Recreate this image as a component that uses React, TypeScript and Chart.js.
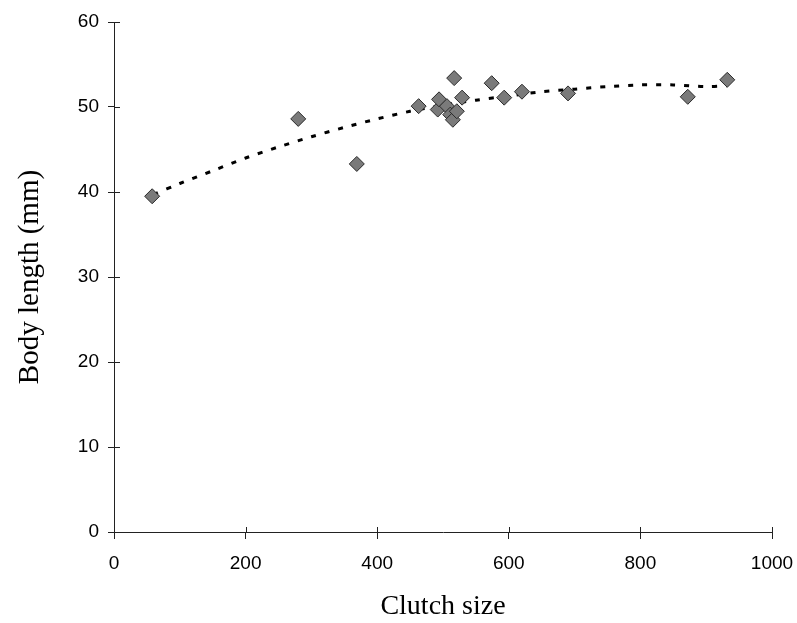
import React, { useEffect, useRef } from "react";
import { Chart, registerables } from "chart.js";

Chart.register(...registerables);

const clutchSize = [58, 280, 369, 463, 492, 494, 506, 511, 515, 517, 521, 529, 574, 593, 620, 690, 872, 932];
const bodyLength = [39.5, 48.6, 43.3, 50.1, 49.7, 50.9, 50.1, 49.1, 48.5, 53.4, 49.5, 51.1, 52.8, 51.1, 51.8, 51.6, 51.2, 53.2];

const trendX = [60, 100, 150, 200, 250, 300, 350, 400, 450, 500, 550, 600, 650, 700, 750, 800, 850, 900, 932];
const trendY = [39.7, 41.0, 42.5, 44.0, 45.3, 46.5, 47.6, 48.6, 49.5, 50.2, 50.8, 51.3, 51.8, 52.1, 52.4, 52.6, 52.6, 52.4, 52.5];

const xTitle = "Clutch size";
const yTitle = "Body length (mm)";

const innerTicks = {
  id: "innerTicks",
  afterDatasetsDraw(chart: any) {
    const ctx = chart.ctx;
    const xs = chart.scales.x;
    const ys = chart.scales.y;
    ctx.save();
    ctx.strokeStyle = "#222";
    ctx.lineWidth = 1;
    ctx.beginPath();
    ys.ticks.forEach((t: any) => {
      const py = Math.round(ys.getPixelForValue(t.value)) + 0.5;
      ctx.moveTo(ys.right, py);
      ctx.lineTo(ys.right + 6, py);
    });
    xs.ticks.forEach((t: any) => {
      const px = Math.round(xs.getPixelForValue(t.value)) + 0.5;
      ctx.moveTo(px, xs.top);
      ctx.lineTo(px, xs.top - 5);
    });
    ctx.stroke();
    ctx.restore();
  },
};

export default function App() {
  const ref = useRef<HTMLCanvasElement>(null);
  useEffect(() => {
    document.body.style.margin = "0";
    const canvas = ref.current!;
    const chart = new Chart(canvas, {
      type: "scatter",
      data: {
        datasets: [
          {
            label: "data",
            data: clutchSize.map((x, i) => ({ x, y: bodyLength[i] })),
            pointStyle: "rectRot",
            pointRadius: 7.5,
            backgroundColor: "#7a7a7a",
            borderColor: "#2a2a2a",
            borderWidth: 1,
            showLine: false,
          },
          {
            label: "trend",
            data: trendX.map((x, i) => ({ x, y: trendY[i] })),
            showLine: true,
            pointRadius: 0,
            borderColor: "#000",
            borderWidth: 3,
            borderDash: [5, 9],
            tension: 0.3,
            fill: false,
          },
        ],
      },
      options: {
        animation: false,
        responsive: false,
        maintainAspectRatio: false,
        layout: { padding: { left: 0, top: 22, right: 25, bottom: 0 } },
        plugins: { legend: { display: false }, tooltip: { enabled: false } },
        scales: {
          x: {
            type: "linear",
            min: 0,
            max: 1000,
            afterFit: (s: any) => { s.height = 91; s.paddingLeft = 0; s.paddingRight = 0; },
            ticks: {
              stepSize: 200,
              color: "#000",
              padding: 13,
              callback: (v: any) => String(v),
              font: { family: "'Liberation Sans', Arial, sans-serif", size: 19 },
            },
            grid: { display: true, drawOnChartArea: false, drawTicks: true, tickLength: 7, color: "#222" },
            border: { display: true, color: "#222", width: 1 },
            title: {
              display: true,
              text: xTitle,
              color: "#000",
              font: { family: "'Liberation Serif', 'Times New Roman', serif", size: 28, lineHeight: 1 },
              padding: { top: 0, bottom: 2 },
            },
          },
          y: {
            type: "linear",
            min: 0,
            max: 60,
            afterFit: (s: any) => { s.width = 114; s.paddingTop = 0; s.paddingBottom = 0; },
            ticks: {
              stepSize: 10,
              color: "#000",
              padding: 9,
              callback: (v: any) => String(v),
              font: { family: "'Liberation Sans', Arial, sans-serif", size: 19 },
            },
            grid: { display: true, drawOnChartArea: false, drawTicks: true, tickLength: 6, color: "#222" },
            border: { display: true, color: "#222", width: 1 },
            title: {
              display: true,
              text: yTitle,
              color: "#000",
              font: { family: "'Liberation Serif', 'Times New Roman', serif", size: 29, lineHeight: 1 },
              padding: { top: 16, bottom: 0 },
            },
          },
        },
      },
      plugins: [innerTicks],
    });
    return () => chart.destroy();
  }, []);
  return <canvas ref={ref} width={797} height={623} style={{ display: "block" }} />;
}
